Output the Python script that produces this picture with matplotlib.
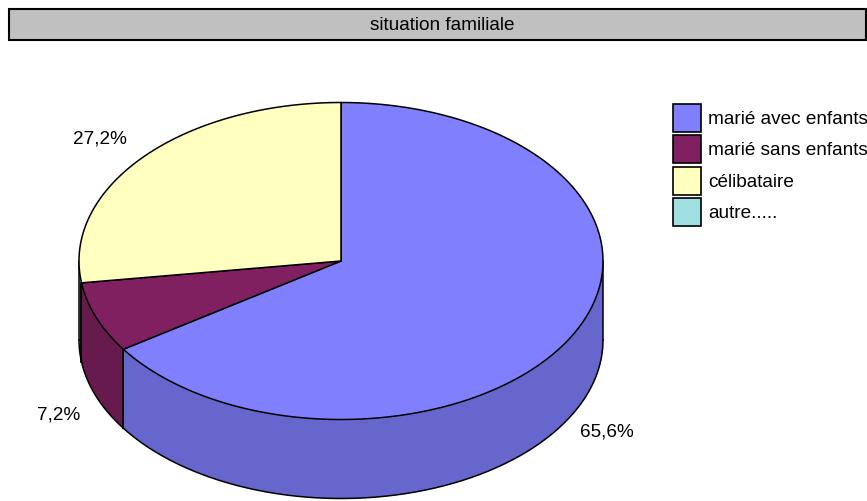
import numpy as np
import matplotlib
matplotlib.use("Agg")
import matplotlib.pyplot as plt
from matplotlib.patches import Polygon, Rectangle

categories = ["marié avec enfants", "marié sans enfants", "célibataire", "autre....."]
values = [65.6, 7.2, 27.2, 0.0]
labels = ["65,6%", "7,2%", "27,2%", ""]
title = "situation familiale"

top_colors = ["#8080FF", "#802060", "#FFFFC0", "#A0E0E0"]
side_colors = ["#6666CC", "#661A4D", "#CCCC9A", "#80B3B3"]
label_nudge = [(-3, 1), (3, 6), (-11, 3), (0, 0)]

plt.rcParams['font.family'] = ['Liberation Sans', 'DejaVu Sans']

W, H = 867, 502
fig = plt.figure(figsize=(W / 100, H / 100), dpi=100)
ax = fig.add_axes([0, 0, 1, 1])
ax.set_xlim(0, W)
ax.set_ylim(H, 0)
ax.axis('off')

cx, cy, rx, ry, depth = 341.0, 262.0, 262.0, 158.5, 79.0
lw = 1.1


def pt(theta_deg, dy=0.0):
    t = np.radians(theta_deg)
    return cx + rx * np.cos(t), cy - ry * np.sin(t) + dy


def arc(t1, t2, dy=0.0, n=200):
    ts = np.linspace(t1, t2, n)
    r = np.radians(ts)
    return np.column_stack([cx + rx * np.cos(r), cy - ry * np.sin(r) + dy])


total = sum(values)
angles = []
start = 90.0
for v in values:
    sweep = 360.0 * v / total
    angles.append((start - sweep, start))
    start -= sweep

# side walls (front half: -180..0)
for (a1, a2), sc in zip(angles, side_colors):
    if a2 - a1 <= 0:
        continue
    for shift in (0.0, -360.0, 360.0):
        lo = max(a1 + shift, -180.0)
        hi = min(a2 + shift, 0.0)
        if hi > lo:
            topa = arc(lo, hi)
            bota = arc(hi, lo, depth)
            poly = np.vstack([topa, bota])
            ax.add_patch(Polygon(poly, closed=True, facecolor=sc, edgecolor='none', zorder=1))
            ax.plot(*arc(lo, hi, depth).T, color='black', lw=lw, zorder=2)
            for a in (lo, hi):
                x0, y0 = pt(a)
                ax.plot([x0, x0], [y0, y0 + depth], color='black', lw=lw, zorder=2)

# top wedges
for (a1, a2), tc in zip(angles, top_colors):
    if a2 - a1 <= 0:
        continue
    poly = np.vstack([[cx, cy], arc(a1, a2), [cx, cy]])
    ax.add_patch(Polygon(poly, closed=True, facecolor=tc, edgecolor='black', lw=lw,
                         joinstyle='round', zorder=3))

# percentage labels
lrx, lry = rx + 43, ry + 33
for (a1, a2), lab, (nx, ny) in zip(angles, labels, label_nudge):
    if not lab:
        continue
    m = np.radians((a1 + a2) / 2)
    x = cx + lrx * np.cos(m) + nx
    y = cy - lry * np.sin(m) + (depth if np.sin(m) < 0 else 0) + ny
    ax.text(x, y, lab, ha='center', va='center', fontsize=13.6, color='black', zorder=5)

# title box
ax.add_patch(Rectangle((9, 9.5), 857, 31.5, facecolor='#C0C0C0', edgecolor='black', lw=1.5, zorder=4))
ax.text(442, 25.5, title, ha='center', va='center', fontsize=13.7, color='black', zorder=5)

# legend
lx, ly0, box, step = 673, 104.5, 28, 31.6
for i, (cat, tc) in enumerate(zip(categories, top_colors)):
    y = ly0 + i * step
    ax.add_patch(Rectangle((lx, y), box, box, facecolor=tc, edgecolor='black', lw=1.2, zorder=4))
    ax.text(lx + box + 7, y + box / 2 + 0.5, cat, ha='left', va='center', fontsize=13.7, color='black', zorder=5)

fig.savefig("out.png", dpi=100)
